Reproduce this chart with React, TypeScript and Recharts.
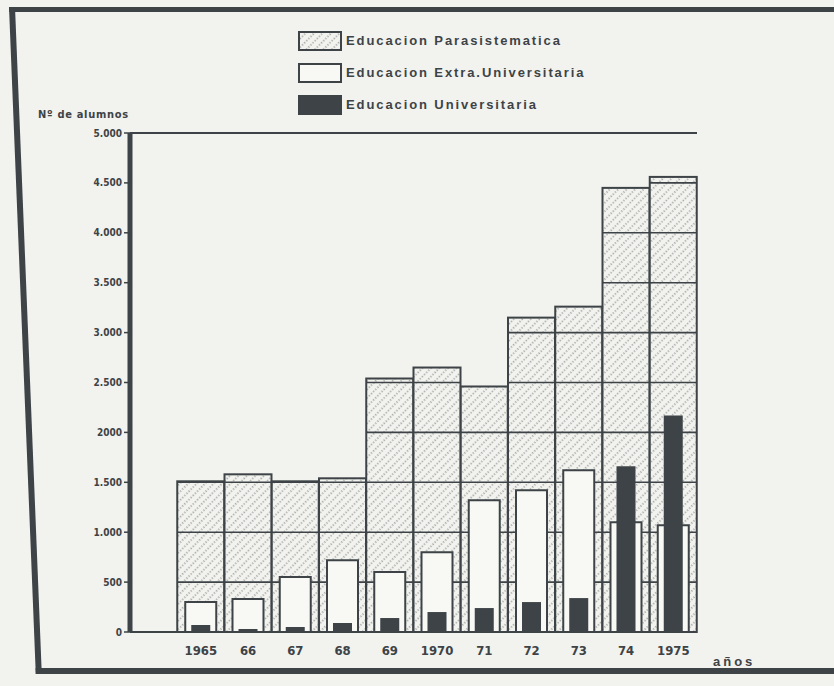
import React from 'react';
import { BarChart, Bar, XAxis, YAxis, ReferenceLine } from 'recharts';

const years = ['', '1965', '66', '67', '68', '69', '1970', '71', '72', '73', '74', '1975'];
const parasistematica = [null, 1510, 1580, 1510, 1540, 2540, 2650, 2460, 3150, 3260, 4450, 4560];
const extraUniversitaria = [null, 300, 330, 550, 720, 600, 800, 1320, 1420, 1620, 1100, 1070];
const universitaria = [null, 70, 30, 50, 90, 140, 200, 240, 300, 340, 1660, 2170];
const yTicks = [0, 500, 1000, 1500, 2000, 2500, 3000, 3500, 4000, 4500, 5000];
const yTickLabels = ['0', '500', '1.000', '1.500', '2000', '2.500', '3.000', '3.500', '4.000', '4.500', '5.000'];
const seriesNames = ['Educacion Parasistematica', 'Educacion Extra.Universitaria', 'Educacion Universitaria'];
const yTitle = 'Nº de alumnos';
const xTitle = 'años';

const data = years.map((y, i) => ({
  year: y,
  para: parasistematica[i],
  extra: extraUniversitaria[i],
  univ: universitaria[i],
}));

const INK = '#3d4346';
const BG = '#f2f2ee';
const HATCH = '#767b7e';
const NARROW = "'Liberation Sans Narrow', 'DejaVu Sans Condensed', 'Liberation Sans', sans-serif";
const SANS = "'Liberation Sans', Arial, sans-serif";

const ParaShape = (props: any) => {
  const { x, y, width, height, payload } = props;
  const v = payload ? payload.para : null;
  if (v == null || !height || height <= 0) return null;
  const ppu = height / v;
  const lines: any[] = [];
  for (let k = 500; k < v; k += 500) {
    const ly = y + height - k * ppu;
    lines.push(<line key={k} x1={x} x2={x + width} y1={ly} y2={ly} stroke={INK} strokeWidth={1.6} />);
  }
  return (
    <g>
      <rect x={x} y={y} width={width} height={height} fill="url(#hatchPara)" stroke="none" />
      {lines}
      <rect x={x} y={y} width={width} height={height} fill="none" stroke={INK} strokeWidth={2} />
    </g>
  );
};

const HatchDef = ({ id }: { id: string }) => (
  <pattern id={id} patternUnits="userSpaceOnUse" width={6} height={6} patternTransform="rotate(45)">
    <rect width={6} height={6} fill={BG} />
    <line x1={1} y1={0} x2={1} y2={6} stroke={HATCH} strokeWidth={1.1} strokeDasharray="1.3 1.7" />
  </pattern>
);

const LegendBox = () => {
  const rows = [
    { name: seriesNames[0], kind: 'para', top: 31 },
    { name: seriesNames[1], kind: 'extra', top: 63 },
    { name: seriesNames[2], kind: 'univ', top: 95 },
  ];
  return (
    <div style={{ position: 'absolute', left: 298, top: 0 }}>
      {rows.map((r) => (
        <div key={r.name} style={{ position: 'absolute', left: 0, top: r.top, width: 400, height: 20 }}>
          <svg width={44} height={20} style={{ position: 'absolute', left: 0, top: 0 }}>
            <defs>
              <HatchDef id="hatchLegend" />
            </defs>
            {r.kind === 'para' && (
              <rect x={1} y={1} width={42} height={18} fill="url(#hatchLegend)" stroke={INK} strokeWidth={2} />
            )}
            {r.kind === 'extra' && <rect x={1} y={1} width={42} height={18} fill="#f8f8f5" stroke={INK} strokeWidth={2} />}
            {r.kind === 'univ' && <rect x={0} y={0} width={44} height={20} fill={INK} />}
          </svg>
          <div
            style={{
              position: 'absolute',
              left: 48,
              top: 1,
              fontFamily: SANS,
              fontWeight: 'bold',
              fontSize: 13,
              letterSpacing: 1.9,
              color: INK,
              whiteSpace: 'nowrap',
              lineHeight: '18px',
            }}
          >
            {r.name}
          </div>
        </div>
      ))}
    </div>
  );
};

export default function App() {
  return (
    <div style={{ position: 'absolute', left: 0, top: 0, width: 834, height: 686, background: BG, overflow: 'hidden' }}>
      <div
        style={{
          position: 'absolute',
          left: 9,
          top: 7,
          width: 900,
          height: 656,
          borderTop: `5px solid ${INK}`,
          borderLeft: `6px solid ${INK}`,
          borderBottom: `6px solid ${INK}`,
          transform: 'skewX(2.3deg)',
          transformOrigin: 'top left',
        }}
      />
      <LegendBox />
      <div
        style={{
          position: 'absolute',
          left: 38,
          top: 108,
          fontFamily: NARROW,
          fontWeight: 'bold',
          fontSize: 11,
          letterSpacing: 0.7,
          color: INK,
          whiteSpace: 'nowrap',
        }}
      >
        {yTitle}
      </div>
      <div
        style={{
          position: 'absolute',
          left: 713,
          top: 654,
          fontFamily: SANS,
          fontWeight: 'bold',
          fontSize: 13,
          letterSpacing: 3,
          color: INK,
          whiteSpace: 'nowrap',
        }}
      >
        {xTitle}
      </div>
      <div style={{ position: 'absolute', left: 0, top: 0 }}>
        <BarChart
          width={834}
          height={686}
          data={data}
          margin={{ top: 133, right: 137, bottom: 24, left: 0 }}
          barCategoryGap={0}
          barGap={0}
        >
          <defs>
            <HatchDef id="hatchPara" />
          </defs>
          <XAxis
            xAxisId="a"
            dataKey="year"
            type="category"
            height={30}
            axisLine={{ stroke: INK, strokeWidth: 2 }}
            tickLine={false}
            tickSize={6}
            tickMargin={8}
            interval={0}
            tick={{ fill: INK, fontSize: 13, fontWeight: 'bold', fontFamily: NARROW }}
          />
          <XAxis xAxisId="b" dataKey="year" type="category" hide />
          <XAxis xAxisId="c" dataKey="year" type="category" hide />
          <YAxis
            yAxisId="l"
            width={130}
            domain={[0, 5000]}
            ticks={yTicks}
            interval={0}
            tickFormatter={(v: number) => yTickLabels[yTicks.indexOf(v)]}
            axisLine={{ stroke: INK, strokeWidth: 5 }}
            tickLine={{ stroke: INK, strokeWidth: 1.5 }}
            tickSize={6}
            tickMargin={2}
            tick={{ fill: INK, fontSize: 10, fontWeight: 'bold', fontFamily: NARROW }}
          />
          <YAxis
            yAxisId="r"
            orientation="right"
            width={0}
            domain={[0, 5000]}
            tick={false}
            tickLine={false}
            axisLine={{ stroke: INK, strokeWidth: 2 }}
          />
          <ReferenceLine xAxisId="a" yAxisId="l" y={5000} stroke={INK} strokeWidth={2} />
          <Bar
            xAxisId="a"
            yAxisId="l"
            dataKey="para"
            name={seriesNames[0]}
            shape={<ParaShape />}
            isAnimationActive={false}
          />
          <Bar
            xAxisId="b"
            yAxisId="l"
            dataKey="extra"
            name={seriesNames[1]}
            barSize={31}
            fill="#f8f8f5"
            stroke={INK}
            strokeWidth={2}
            isAnimationActive={false}
          />
          <Bar
            xAxisId="c"
            yAxisId="l"
            dataKey="univ"
            name={seriesNames[2]}
            barSize={19}
            fill={INK}
            isAnimationActive={false}
          />
        </BarChart>
      </div>
    </div>
  );
}
